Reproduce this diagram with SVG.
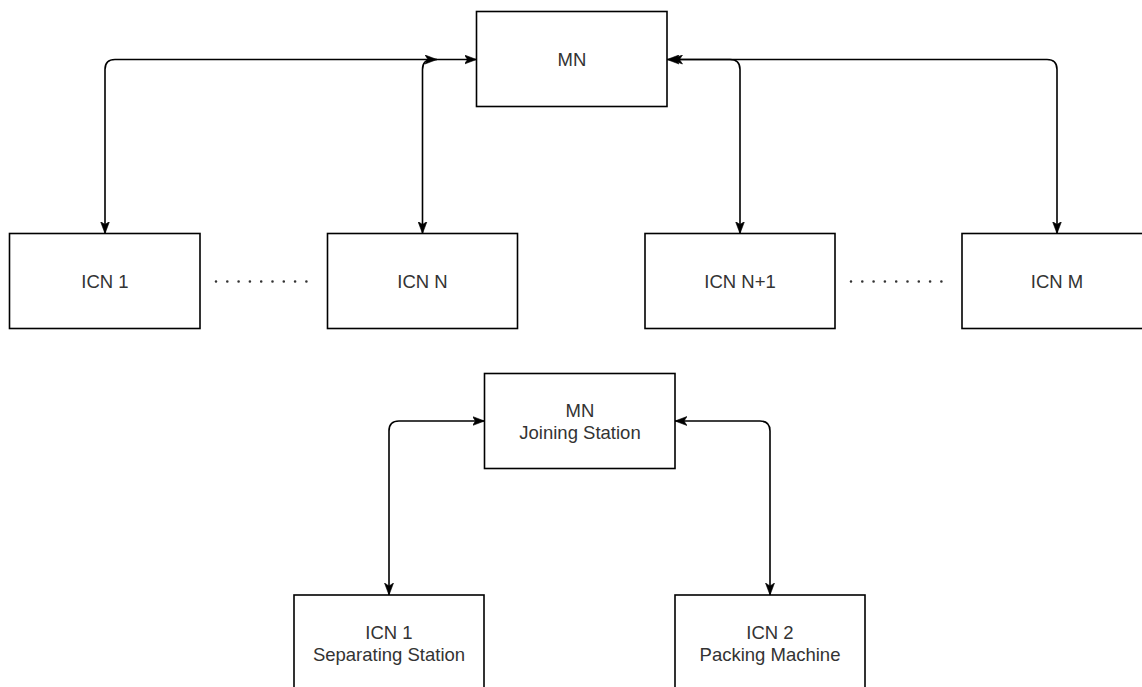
<svg xmlns="http://www.w3.org/2000/svg" width="1142" height="687" viewBox="0 0 1142 687">
  <style>
    .box { fill: #ffffff; stroke: #000000; stroke-width: 1.6; }
    .lbl { font-family: "Liberation Sans", Arial, Helvetica, sans-serif; font-size: 18.5px; fill: #333333; text-anchor: middle; }
    .edge { fill: none; stroke: #000000; stroke-width: 1.6; }
    .dots { fill: none; stroke: #333333; stroke-width: 2.6; stroke-linecap: round; stroke-dasharray: 0 11.3; }
  </style>
  <defs>
    <marker id="arrow" viewBox="0 0 12 10" refX="12" refY="5" markerWidth="12" markerHeight="10" markerUnits="userSpaceOnUse" orient="auto-start-reverse">
      <path d="M0,0.5 L12,5 L0,9.5 L3,5 Z" fill="#000000" stroke="#000000" stroke-width="0.6" stroke-linejoin="miter"/>
    </marker>
  </defs>

  <rect width="1142" height="687" fill="#ffffff"/>

  <!-- connectors -->
  <g id="connectors">
    <!-- upper network: left branch -->
    <path class="edge" d="M105,233.5 V69.5 Q105,59.5 115,59.5 H437" marker-start="url(#arrow)" marker-end="url(#arrow)"/>
    <path class="edge" d="M422.5,233.5 V69.5 Q422.5,59.5 432.5,59.5 H476.5" marker-start="url(#arrow)" marker-end="url(#arrow)"/>
    <!-- upper network: right branch -->
    <path class="edge" d="M740,233.5 V69.5 Q740,59.5 730,59.5 H667" marker-start="url(#arrow)" marker-end="url(#arrow)"/>
    <path class="edge" d="M1057,233.5 V69.5 Q1057,59.5 1047,59.5 H670.5" marker-start="url(#arrow)" marker-end="url(#arrow)"/>
    <!-- lower network -->
    <path class="edge" d="M389,595 V431 Q389,421 399,421 H484.5" marker-start="url(#arrow)" marker-end="url(#arrow)"/>
    <path class="edge" d="M770,595 V431 Q770,421 760,421 H675" marker-start="url(#arrow)" marker-end="url(#arrow)"/>
  </g>

  <!-- ellipsis between node groups -->
  <g id="ellipsis-left"><line class="dots" x1="216" y1="281.5" x2="307" y2="281.5"/></g>
  <g id="ellipsis-right"><line class="dots" x1="851" y1="281.5" x2="942" y2="281.5"/></g>

  <!-- upper network nodes -->
  <g id="mn-top">
    <rect class="box" x="476.5" y="11.5" width="190.5" height="95"/>
    <text class="lbl" x="572" y="65.5">MN</text>
  </g>
  <g id="icn-1">
    <rect class="box" x="9.5" y="233.5" width="190.5" height="95"/>
    <text class="lbl" x="105" y="288">ICN 1</text>
  </g>
  <g id="icn-n">
    <rect class="box" x="327.5" y="233.5" width="190" height="95"/>
    <text class="lbl" x="422.5" y="288">ICN N</text>
  </g>
  <g id="icn-n1">
    <rect class="box" x="645" y="233.5" width="190" height="95"/>
    <text class="lbl" x="740" y="288">ICN N+1</text>
  </g>
  <g id="icn-m">
    <rect class="box" x="962" y="233.5" width="190" height="95"/>
    <text class="lbl" x="1057" y="288">ICN M</text>
  </g>

  <!-- lower network nodes -->
  <g id="mn-joining">
    <rect class="box" x="484.5" y="373.5" width="190.5" height="95"/>
    <text class="lbl" x="580" y="416.5">MN</text>
    <text class="lbl" x="580" y="438.5">Joining Station</text>
  </g>
  <g id="icn-separating">
    <rect class="box" x="294" y="595" width="190" height="95"/>
    <text class="lbl" x="389" y="638.5">ICN 1</text>
    <text class="lbl" x="389" y="660.5">Separating Station</text>
  </g>
  <g id="icn-packing">
    <rect class="box" x="675" y="595" width="190" height="95"/>
    <text class="lbl" x="770" y="638.5">ICN 2</text>
    <text class="lbl" x="770" y="660.5">Packing Machine</text>
  </g>
</svg>
